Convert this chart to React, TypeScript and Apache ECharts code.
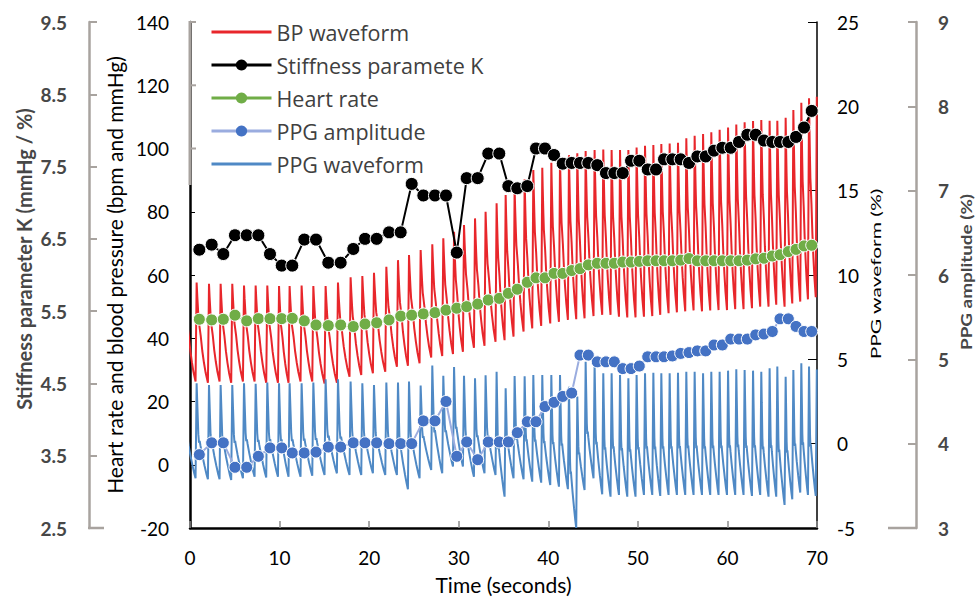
import React, { useEffect, useRef } from "react";
import * as echarts from "echarts";

// ---- Per-beat marker series (time of each beat, seconds) ----
const beatTimes = [
  1.04, 2.42, 3.72, 5.02, 6.33, 7.63, 8.93, 10.24, 11.42, 12.76,
  14.07, 15.44, 16.82, 18.23, 19.54, 20.84, 22.22, 23.52, 24.75, 26.05,
  27.35, 28.58, 29.78, 30.89, 32.12, 33.3, 34.53, 35.54, 36.54, 37.66,
  38.63, 39.63, 40.64, 41.61, 42.61, 43.54, 44.47, 45.47, 46.44, 47.37,
  48.31, 49.24, 50.16, 51.1, 52.03, 52.92, 53.85, 54.78, 55.71, 56.64,
  57.58, 58.5, 59.43, 60.37, 61.29, 62.22, 63.16, 64.08, 65.01, 65.87,
  66.8, 67.66, 68.55, 69.41,
];

const stiffnessK = [
  6.35, 6.42, 6.29, 6.55, 6.55, 6.55, 6.29, 6.13, 6.13, 6.49,
  6.49, 6.17, 6.17, 6.36, 6.5, 6.5, 6.59, 6.59, 7.26, 7.1,
  7.1, 7.1, 6.31, 7.34, 7.34, 7.68, 7.68, 7.23, 7.2, 7.23,
  7.75, 7.75, 7.66, 7.54, 7.55, 7.55, 7.55, 7.52, 7.41, 7.41,
  7.41, 7.58, 7.58, 7.46, 7.46, 7.6, 7.6, 7.6, 7.55, 7.64,
  7.64, 7.72, 7.76, 7.76, 7.84, 7.94, 7.94, 7.86, 7.84, 7.84,
  7.84, 7.91, 8.04, 8.27,
];

const heartRate = [
  46.0, 45.8, 46.0, 47.3, 45.5, 46.2, 46.2, 46.2, 46.3, 45.5,
  44.2, 44.0, 44.2, 43.7, 44.5, 44.9, 45.8, 47.0, 47.3, 47.7,
  48.1, 48.9, 49.5, 50.0, 50.8, 52.1, 52.6, 54.2, 55.5, 57.7,
  59.1, 59.1, 60.5, 60.5, 61.4, 62.0, 63.2, 63.7, 63.7, 63.7,
  64.1, 64.1, 64.3, 64.5, 64.5, 64.5, 64.5, 64.7, 65.2, 64.5,
  64.5, 64.5, 64.5, 64.5, 64.5, 64.7, 65.1, 65.3, 66.0, 66.4,
  67.4, 68.1, 69.2, 69.4,
];

const ppgAmplitude = [
  3.87, 4.01, 4.01, 3.72, 3.72, 3.85, 3.95, 3.95, 3.89, 3.89,
  3.9, 3.96, 3.96, 4.01, 4.01, 4.01, 4.0, 4.0, 4.0, 4.27,
  4.27, 4.5, 3.85, 4.02, 3.81, 4.02, 4.02, 4.02, 4.13, 4.26,
  4.26, 4.44, 4.49, 4.56, 4.6, 5.05, 5.05, 4.97, 4.97, 4.97,
  4.89, 4.89, 4.92, 5.03, 5.03, 5.03, 5.04, 5.07, 5.08, 5.1,
  5.1, 5.17, 5.17, 5.24, 5.24, 5.24, 5.29, 5.3, 5.33, 5.48,
  5.48, 5.39, 5.33, 5.33,
];

// ---- Waveform beats: index 0 = beat before t=0, last = beat at the right edge ----
const waveEdgePeakTimes = [-0.55, 69.98];
const bpSystolic = [
  57.0,
  57.6, 57.2, 57.2, 57.2, 56.7, 56.7, 56.7, 56.5, 56.5, 56.7,
  56.5, 56.5, 57.6, 59.3, 59.7, 60.7, 62.6, 64.7, 66.3, 67.9,
  69.7, 71.6, 73.7, 75.8, 77.9, 80.0, 82.7, 85.3, 87.5, 90.3,
  93.2, 93.9, 95.5, 96.9, 97.9, 98.5, 99.2, 99.5, 99.7, 99.5,
  99.5, 99.5, 100.3, 100.9, 101.1, 101.4, 101.6, 101.8, 103.2, 104.0,
  104.6, 105.1, 105.9, 106.6, 107.6, 108.3, 108.7, 109.0, 108.8, 108.8,
  109.7, 112.2, 114.5, 115.9,
  116.4,
];
const bpDiastolic = [
  26.3,
  26.3, 25.9, 26.3, 25.9, 26.3, 26.3, 25.9, 25.9, 25.9, 26.3,
  26.3, 25.7, 25.9, 27.8, 28.4, 28.9, 29.4, 31.0, 31.3, 32.1,
  33.9, 34.4, 35.0, 35.7, 37.0, 37.6, 38.9, 39.4, 40.5, 42.1,
  43.1, 43.9, 44.7, 45.2, 45.8, 46.0, 46.3, 47.0, 47.4, 47.4,
  46.8, 46.6, 46.6, 46.8, 47.0, 47.4, 47.9, 48.2, 48.5, 48.8,
  48.5, 48.8, 48.9, 48.9, 49.2, 49.2, 49.5, 50.0, 50.0, 50.6,
  50.0, 51.0, 51.6, 52.3,
  53.0,
];
const ppgPeak = [
  3.5,
  3.58, 3.48, 3.48, 3.48, 3.58, 3.55, 3.62, 3.58, 3.58, 3.58,
  3.62, 3.82, 3.82, 3.68, 3.58, 3.48, 3.62, 3.62, 3.68, 3.45,
  4.64, 4.02, 4.54, 4.02, 3.88, 4.05, 4.27, 3.28, 4.01, 4.0,
  4.07, 4.07, 4.07, 4.07, 3.38, 2.79, 4.86, 4.77, 4.17, 4.17,
  4.07, 3.88, 4.07, 4.17, 4.21, 4.17, 4.17, 4.21, 4.27, 4.27,
  4.17, 4.27, 4.27, 4.33, 4.41, 4.37, 4.33, 4.27, 4.47, 4.57,
  3.97, 4.37, 4.77, 4.57,
  4.4,
];
const ppgTrough = [
  -2.0,
  -2.05, -2.11, -2.11, -2.15, -2.05, -1.96, -2.0, -1.96, -1.96, -1.96,
  -1.9, -1.86, -1.76, -1.86, -1.86, -1.76, -1.86, -1.86, -2.7, -2.05,
  -1.56, -1.76, -1.36, -1.36, -1.96, -1.76, -1.86, -3.14, -2.05, -2.11,
  -2.25, -2.31, -2.45, -2.55, -2.7, -5.0, -2.75, -2.05, -3.0, -3.14,
  -3.04, -3.14, -3.14, -3.04, -3.04, -3.1, -3.04, -3.04, -3.04, -3.04,
  -3.04, -3.04, -3.04, -3.04, -3.04, -3.04, -3.1, -3.04, -3.14, -3.14,
  -3.63, -3.3, -2.9, -3.04,
  -3.1,
];

// Beat shapes: [fraction of peak->next onset, level between next trough (0) and peak (1)]
const bpBeatShape = [
  [0, 1], [0.06, 0.86], [0.14, 0.7], [0.2, 0.6], [0.24, 0.57], [0.28, 0.57],
  [0.36, 0.47], [0.5, 0.32], [0.65, 0.2], [0.8, 0.1], [1, 0],
];
const ppgBeatShape = [
  [0, 1], [0.07, 0.75], [0.15, 0.47], [0.21, 0.38], [0.27, 0.4], [0.34, 0.35],
  [0.5, 0.25], [0.7, 0.14], [0.88, 0.05], [1, 0],
];
const PEAK_LEAD = 0.3; // waveform peak precedes the beat marker (s)
const UPSTROKE = 0.12; // onset-to-peak duration (s)

// Tick labels
const kTicks = [2.5, 3.5, 4.5, 5.5, 6.5, 7.5, 8.5, 9.5];

const wavePeakTimes = [
  waveEdgePeakTimes[0],
  ...beatTimes.map((t) => t - PEAK_LEAD),
  waveEdgePeakTimes[1],
];

function buildWave(peaks: number[], troughs: number[], shape: number[][]) {
  const pts: number[][] = [];
  for (let i = 0; i < wavePeakTimes.length; i++) {
    const p = wavePeakTimes[i];
    pts.push([p - UPSTROKE, troughs[i]]);
    pts.push([p, peaks[i]]);
    if (i + 1 < wavePeakTimes.length) {
      const nextOnset = wavePeakTimes[i + 1] - UPSTROKE;
      const lo = troughs[i + 1];
      const hi = peaks[i];
      for (let k = 1; k < shape.length - 1; k++) {
        const [f, lv] = shape[k];
        pts.push([p + f * (nextOnset - p), lo + lv * (hi - lo)]);
      }
    }
  }
  return pts;
}

const FONT = "Lato";
const GRAY = "#a8a39f";
const GRAY_TEXT = "#474747";
const seriesNames = [
  "BP waveform",
  "Stiffness paramete K",
  "Heart rate",
  "PPG amplitude",
  "PPG waveform",
];
const lineOnlyNames = ["BP waveform", "PPG waveform"];

function makeOption() {
  const bpWave = buildWave(bpSystolic, bpDiastolic, bpBeatShape);
  const ppgWave = buildWave(ppgPeak, ppgTrough, ppgBeatShape);
  const pair = (vals: number[]) => beatTimes.map((t, i) => [t, vals[i]]);
  const marker = (color: string, size: number) => ({
    symbol: "circle",
    symbolSize: size,
    showSymbol: true,
    itemStyle: { color, borderColor: "#ffffff", borderWidth: 1 },
  });
  return {
    animation: false,
    backgroundColor: "#ffffff",
    grid: { left: 190, right: 159, top: 22, bottom: 73, containLabel: false, outerBoundsMode: "none" },
    legend: {
      orient: "vertical",
      left: 210,
      top: 21,
      padding: 0,
      itemWidth: 60,
      itemHeight: 14,
      itemGap: 11,
      selectedMode: false,
      data: seriesNames.map((name) =>
        lineOnlyNames.includes(name)
          ? { name, itemStyle: { opacity: 0 } }
          : { name, itemStyle: { borderWidth: 0 } }
      ),
      lineStyle: { width: 3 },
      textStyle: { fontFamily: "Open Sans", fontSize: 21.5, color: "#404040", lineHeight: 22 },
    },
    xAxis: {
      type: "value",
      min: 0,
      max: 70,
      interval: 10,
      axisLine: { show: true, onZero: false, lineStyle: { color: "#000", width: 2.5 } },
      axisTick: { show: true, inside: true, length: 7, lineStyle: { color: "#8c8c8c", width: 1.5 } },
      axisLabel: { margin: 20, fontFamily: FONT, fontSize: 19, color: "#000" },
      splitLine: { show: false },
      name: "Time (seconds)",
      nameLocation: "middle",
      nameGap: 46,
      nameTextStyle: { fontFamily: FONT, fontSize: 21, color: "#000" },
    },
    yAxis: [
      {
        type: "value",
        position: "left",
        min: -20,
        max: 140,
        interval: 20,
        axisLine: { show: true, onZero: false, lineStyle: { color: "#000", width: 2.5 } },
        axisTick: { show: true, inside: true, length: 5, lineStyle: { color: "#000", width: 1 } },
        axisLabel: { margin: 21, fontFamily: FONT, fontSize: 19, color: "#000" },
        splitLine: { show: false },
        name: "Heart rate and blood pressure (bpm and mmHg)",
        nameLocation: "middle",
        nameRotate: 90,
        nameGap: 62,
        nameTextStyle: { fontFamily: FONT, fontSize: 21, color: "#000" },
      },
      {
        type: "value",
        position: "left",
        offset: 101,
        min: 2.5,
        max: 9.5,
        axisLine: { show: true, onZero: false, lineStyle: { color: GRAY, width: 2.5 } },
        axisTick: { show: true, inside: true, length: 8, customValues: kTicks, lineStyle: { color: GRAY, width: 2 } },
        axisLabel: {
          margin: 22,
          customValues: kTicks,
          formatter: (v: number) => v.toFixed(1),
          fontFamily: FONT,
          fontSize: 19,
          fontWeight: "bold",
          color: GRAY_TEXT,
        },
        splitLine: { show: false },
      },
      {
        type: "value",
        position: "right",
        min: -5,
        max: 25,
        interval: 5,
        axisLine: { show: true, onZero: false, lineStyle: { color: "#000", width: 1.5 } },
        axisTick: { show: true, inside: true, length: 9, lineStyle: { color: "#000", width: 1 } },
        axisLabel: { margin: 20, fontFamily: FONT, fontSize: 19, color: "#000" },
        splitLine: { show: false },
      },
      {
        type: "value",
        position: "right",
        offset: 99,
        min: 3,
        max: 9,
        interval: 1,
        axisLine: { show: true, onZero: false, lineStyle: { color: GRAY, width: 2.5 } },
        axisTick: { show: true, inside: true, length: 8, lineStyle: { color: GRAY, width: 2 } },
        axisLabel: { margin: 22, fontFamily: FONT, fontSize: 19, fontWeight: "bold", color: GRAY_TEXT },
        splitLine: { show: false },
      },
    ],
    series: [
      {
        name: "BP waveform",
        type: "line",
        yAxisIndex: 0,
        data: bpWave,
        symbol: "none",
        lineStyle: { color: "#e8262b", width: 2 },
        itemStyle: { color: "#e8262b" },
        z: 2,
      },
      {
        name: "PPG waveform",
        type: "line",
        yAxisIndex: 2,
        data: ppgWave,
        symbol: "none",
        lineStyle: { color: "#4f89c5", width: 2 },
        itemStyle: { color: "#4f89c5" },
        z: 2,
      },
      {
        name: "Stiffness paramete K",
        type: "line",
        yAxisIndex: 1,
        data: pair(stiffnessK),
        ...marker("#000000", 13),
        lineStyle: { color: "#000000", width: 2 },
        z: 4,
      },
      {
        name: "Heart rate",
        type: "line",
        yAxisIndex: 0,
        data: pair(heartRate),
        ...marker("#70ad47", 12),
        lineStyle: { color: "#70ad47", width: 2 },
        z: 4,
      },
      {
        name: "PPG amplitude",
        type: "line",
        yAxisIndex: 3,
        data: pair(ppgAmplitude),
        ...marker("#4472c4", 12),
        lineStyle: { color: "#9aacdf", width: 2 },
        z: 4,
      },
    ],
    graphic: [
      // grey top part of the left axis (legend overlay)
      { type: "line", z: 100, shape: { x1: 190, y1: 21, x2: 190, y2: 185 }, style: { stroke: GRAY, lineWidth: 3 } },
      { type: "line", z: 100, shape: { x1: 189, y1: 22, x2: 196, y2: 22 }, style: { stroke: GRAY, lineWidth: 2 } },
      { type: "line", z: 100, shape: { x1: 189, y1: 85.3, x2: 196, y2: 85.3 }, style: { stroke: GRAY, lineWidth: 2 } },
      { type: "line", z: 100, shape: { x1: 189, y1: 148.5, x2: 196, y2: 148.5 }, style: { stroke: GRAY, lineWidth: 2 } },
      // feet of the outer axes
      { type: "line", z: 100, shape: { x1: 88, y1: 528, x2: 104, y2: 528 }, style: { stroke: GRAY, lineWidth: 2.5 } },
      { type: "line", z: 100, shape: { x1: 888, y1: 528, x2: 917, y2: 528 }, style: { stroke: GRAY, lineWidth: 2.5 } },
      {
        type: "text",
        z: 100,
        x: 24,
        y: 259,
        rotation: Math.PI / 2,
        style: {
          text: "Stiffness parameter K (mmHg / %)",
          fontFamily: FONT,
          fontSize: 20,
          fontWeight: "bold",
          fill: GRAY_TEXT,
          align: "center",
          verticalAlign: "middle",
        },
      },
      {
        type: "text",
        z: 100,
        x: 876,
        y: 274,
        rotation: Math.PI / 2,
        scaleX: 1.5,
        style: {
          text: "PPG waveform (%)",
          fontFamily: FONT,
          fontSize: 14,
          fill: "#000",
          align: "center",
          verticalAlign: "middle",
        },
      },
      {
        type: "text",
        z: 100,
        x: 966,
        y: 272,
        rotation: Math.PI / 2,
        scaleX: 1.18,
        style: {
          text: "PPG amplitude (%)",
          fontFamily: FONT,
          fontSize: 16,
          fontWeight: "bold",
          fill: GRAY_TEXT,
          align: "center",
          verticalAlign: "middle",
        },
      },
    ],
  };
}

export default function App() {
  const ref = useRef<HTMLDivElement>(null);
  useEffect(() => {
    if (!ref.current) return;
    const chart = echarts.init(ref.current, null, { renderer: "svg" });
    chart.setOption(makeOption() as any);
    return () => chart.dispose();
  }, []);
  return (
    <div
      ref={ref}
      style={{ position: "fixed", left: 0, top: 0, width: 976, height: 601, background: "#fff" }}
    />
  );
}
